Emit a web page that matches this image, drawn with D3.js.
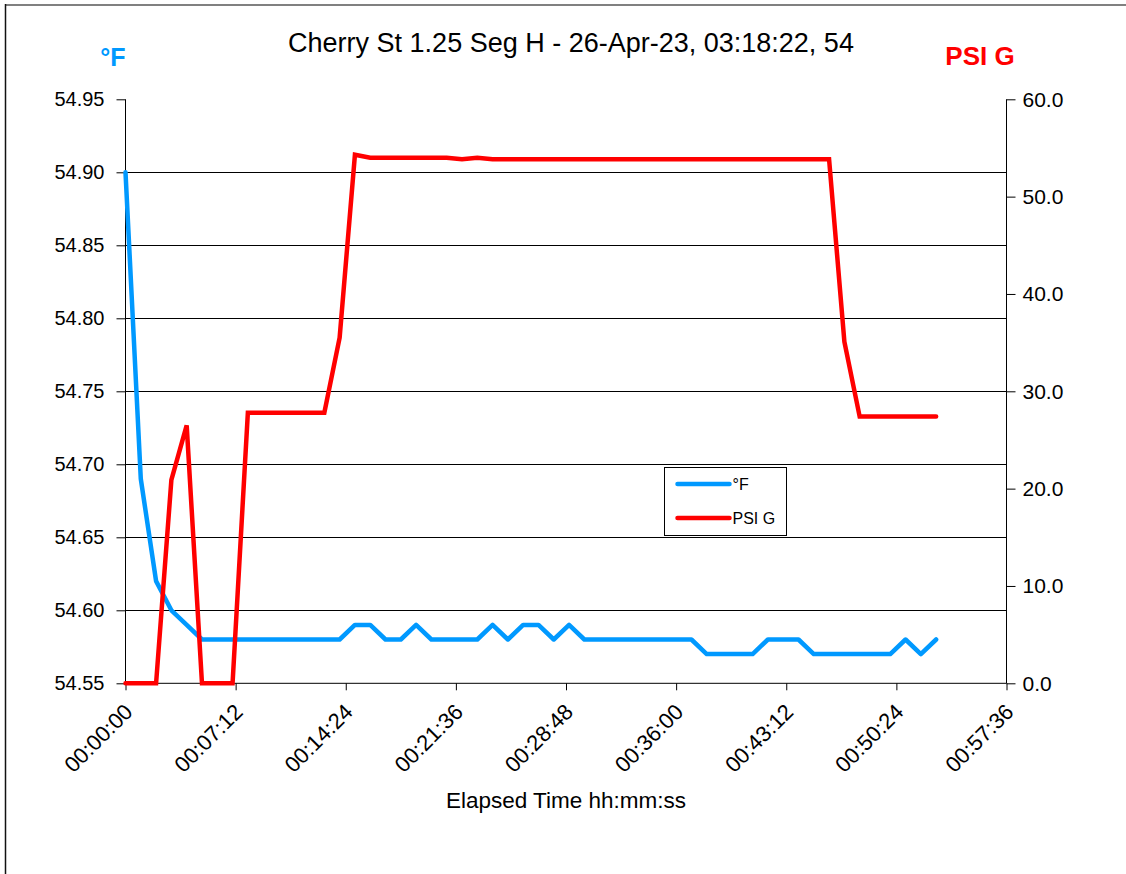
<!DOCTYPE html>
<html>
<head>
<meta charset="utf-8">
<script src="https://cdn.jsdelivr.net/npm/d3@7"></script>
<style>
  html, body { margin: 0; padding: 0; background: #fff; }
  svg { display: block; font-family: "Liberation Sans", Arial, sans-serif; }
</style>
</head>
<body>
<svg id="chart" width="1126" height="874"></svg>
<script>
// Samples one minute apart (elapsed seconds = index * sampleSeconds)
const sampleSeconds = 60;

// Temperature, degrees F (left axis)
const tempF = [
  54.90, 54.69, 54.62, 54.60, 54.59, 54.58, 54.58, 54.58, 54.58, 54.58,
  54.58, 54.58, 54.58, 54.58, 54.58, 54.59, 54.59, 54.58, 54.58, 54.59,
  54.58, 54.58, 54.58, 54.58, 54.59, 54.58, 54.59, 54.59, 54.58, 54.59,
  54.58, 54.58, 54.58, 54.58, 54.58, 54.58, 54.58, 54.58, 54.57, 54.57,
  54.57, 54.57, 54.58, 54.58, 54.58, 54.57, 54.57, 54.57, 54.57, 54.57,
  54.57, 54.58, 54.57, 54.58
];

// Pressure, PSI G (right axis)
const psiG = [
  0.0, 0.0, 0.0, 20.9, 26.5, 0.0, 0.0, 0.0, 27.8, 27.8,
  27.8, 27.8, 27.8, 27.8, 35.5, 54.3, 54.0, 54.0, 54.0, 54.0,
  54.0, 54.0, 53.85, 54.0, 53.85, 53.85, 53.85, 53.85, 53.85, 53.85,
  53.85, 53.85, 53.85, 53.85, 53.85, 53.85, 53.85, 53.85, 53.85, 53.85,
  53.85, 53.85, 53.85, 53.85, 53.85, 53.85, 53.85, 35.1, 27.4, 27.4,
  27.4, 27.4, 27.4, 27.4
];

const leftTicks = [54.55, 54.60, 54.65, 54.70, 54.75, 54.80, 54.85, 54.90, 54.95];
const rightTicks = [0, 10, 20, 30, 40, 50, 60];
const xTicks = [0, 432, 864, 1296, 1728, 2160, 2592, 3024, 3456];

const titleText = 'Cherry St 1.25 Seg H - 26-Apr-23, 03:18:22, 54';
const xTitle = 'Elapsed Time hh:mm:ss';

const blue = '#0099ff';
const red = '#ff0000';

const plot = { left: 125.5, right: 1006.5, top: 99.3, bottom: 683.3 };

const svg = d3.select('#chart');

// outer frame edges
svg.append('line')
  .attr('x1', 5).attr('x2', 1126).attr('y1', 5).attr('y2', 5)
  .attr('stroke', '#808080').attr('stroke-width', 2);
svg.append('line')
  .attr('x1', 5.5).attr('x2', 5.5).attr('y1', 4).attr('y2', 874)
  .attr('stroke', '#111').attr('stroke-width', 1.5);

const x = d3.scaleLinear().domain([0, 3456]).range([plot.left, plot.right]);
const yL = d3.scaleLinear().domain([54.55, 54.95]).range([plot.bottom, plot.top]);
const yR = d3.scaleLinear().domain([0, 60]).range([plot.bottom, plot.top]);

// horizontal gridlines from the left axis
svg.append('g')
  .selectAll('line')
  .data(leftTicks.slice(1, -1))
  .join('line')
  .attr('x1', plot.left).attr('x2', plot.right)
  .attr('y1', d => Math.round(yL(d)) + 0.5)
  .attr('y2', d => Math.round(yL(d)) + 0.5)
  .attr('stroke', '#000').attr('stroke-width', 1);

function fmtTime(s) {
  const h = Math.floor(s / 3600);
  const m = Math.floor((s % 3600) / 60);
  const sec = s % 60;
  return [h, m, sec].map(v => String(v).padStart(2, '0')).join(':');
}

// left axis
const gL = svg.append('g')
  .attr('transform', `translate(${plot.left},0)`)
  .call(d3.axisLeft(yL).tickValues(leftTicks).tickFormat(d3.format('.2f')).tickSize(9).tickPadding(12));

// right axis
const gR = svg.append('g')
  .attr('transform', `translate(${plot.right},0)`)
  .call(d3.axisRight(yR).tickValues(rightTicks).tickFormat(d3.format('.1f')).tickSize(9).tickPadding(7));

// bottom axis
const gX = svg.append('g')
  .attr('transform', `translate(0,${plot.bottom})`)
  .call(d3.axisBottom(x).tickValues(xTicks).tickFormat(fmtTime).tickSize(7).tickPadding(4));

[gL, gR, gX].forEach(g => {
  g.select('.domain').attr('stroke', '#000').attr('stroke-width', 1);
  g.selectAll('.tick line').attr('stroke', '#000');
  g.selectAll('.tick text')
    .attr('fill', '#000')
    .style('font-family', '"Liberation Sans", Arial, sans-serif')
    .style('font-size', '20px');
});
gR.selectAll('.tick text').style('font-size', '21px');

gL.select('.domain').attr('d', `M-0,${plot.top}V${plot.bottom}`);
gR.select('.domain').attr('d', `M0,${plot.top}V${plot.bottom}`);
gX.select('.domain').attr('d', `M${plot.left},0H${plot.right}`);

gX.selectAll('.tick text')
  .attr('text-anchor', 'end')
  .attr('x', 0).attr('y', 0)
  .attr('dy', null)
  .style('font-size', '22px')
  .attr('transform', 'translate(8,30) rotate(-45)');

// series lines
const lineL = d3.line()
  .x((d, i) => x(i * sampleSeconds))
  .y(d => yL(d));
const lineR = d3.line()
  .x((d, i) => x(i * sampleSeconds))
  .y(d => yR(d));

svg.append('path')
  .datum(tempF)
  .attr('d', lineL)
  .attr('fill', 'none')
  .attr('stroke', blue)
  .attr('stroke-width', 4.5)
  .attr('stroke-linejoin', 'round')
  .attr('stroke-linecap', 'round');

svg.append('path')
  .datum(psiG)
  .attr('d', lineR)
  .attr('fill', 'none')
  .attr('stroke', red)
  .attr('stroke-width', 4.5)
  .attr('stroke-linejoin', 'miter')
  .attr('stroke-linecap', 'round');

// title and axis titles
svg.append('text')
  .attr('x', 571).attr('y', 52)
  .attr('text-anchor', 'middle')
  .style('font-size', '27px')
  .attr('fill', '#000')
  .text(titleText);

svg.append('text')
  .attr('x', 113).attr('y', 66)
  .attr('text-anchor', 'middle')
  .style('font-size', '25px').style('font-weight', 'bold')
  .attr('fill', blue)
  .text('°F');

svg.append('text')
  .attr('x', 980).attr('y', 65)
  .attr('text-anchor', 'middle')
  .style('font-size', '26px').style('font-weight', 'bold')
  .attr('fill', red)
  .text('PSI G');

svg.append('text')
  .attr('x', 566).attr('y', 808)
  .attr('text-anchor', 'middle')
  .style('font-size', '22.5px')
  .attr('fill', '#000')
  .text(xTitle);

// legend
const legend = svg.append('g').attr('transform', 'translate(664.5,467.5)');
legend.append('rect')
  .attr('width', 122).attr('height', 68)
  .attr('fill', '#fff').attr('stroke', '#000').attr('stroke-width', 1);
const legendItems = [
  { label: '°F', color: blue },
  { label: 'PSI G', color: red }
];
legend.selectAll('g.item')
  .data(legendItems)
  .join('g')
  .attr('class', 'item')
  .attr('transform', (d, i) => `translate(0,${16.5 + i * 34})`)
  .each(function(d) {
    const g = d3.select(this);
    g.append('line')
      .attr('x1', 13).attr('x2', 65)
      .attr('stroke', d.color).attr('stroke-width', 4.5)
      .attr('stroke-linecap', 'round');
    g.append('text')
      .attr('x', 68).attr('y', 6)
      .style('font-size', '16px')
      .attr('fill', '#000')
      .text(d.label);
  });
</script>
</body>
</html>
